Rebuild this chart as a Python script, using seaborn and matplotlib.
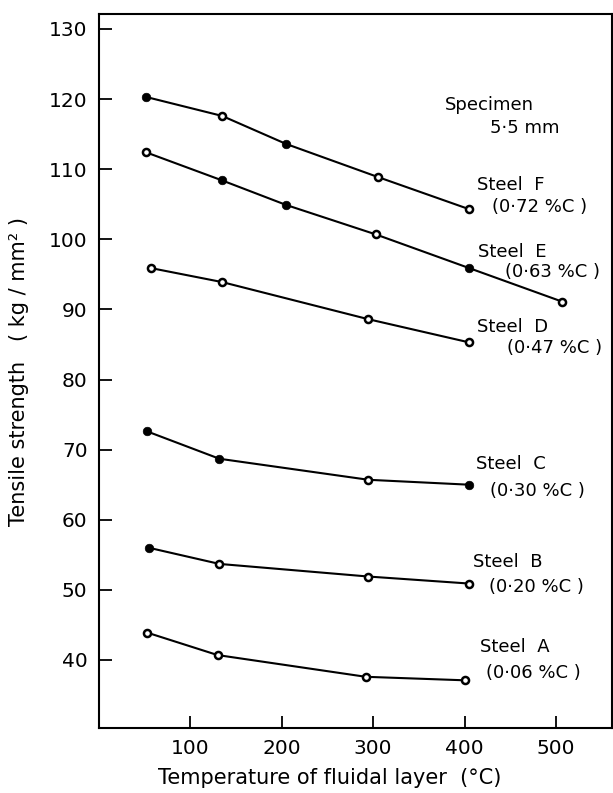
import pandas as pd
import matplotlib.pyplot as plt
import seaborn as sns

# Values
steels = ["A", "B", "C", "D", "E", "F"]
carbon = ["0·06", "0·20", "0·30", "0·47", "0·63", "0·72"]

temp_a = [53, 130, 292, 400]
ts_a = [43.9, 40.7, 37.6, 37.1]
fill_a = [False, False, False, False]

temp_b = [55, 132, 295, 405]
ts_b = [56.0, 53.7, 51.9, 50.9]
fill_b = [True, False, False, False]

temp_c = [53, 132, 295, 405]
ts_c = [72.6, 68.7, 65.7, 65.0]
fill_c = [True, True, False, True]

temp_d = [57, 135, 295, 405]
ts_d = [95.9, 93.9, 88.6, 85.3]
fill_d = [False, False, False, False]

temp_e = [52, 135, 205, 303, 405, 507]
ts_e = [112.4, 108.4, 104.9, 100.7, 95.9, 91.1]
fill_e = [False, True, True, False, True, False]

temp_f = [52, 135, 205, 305, 405]
ts_f = [120.3, 117.6, 113.6, 108.9, 104.3]
fill_f = [True, False, True, False, False]

x_ticks = [100, 200, 300, 400, 500]
y_ticks = [40, 50, 60, 70, 80, 90, 100, 110, 120, 130]

# label anchor positions (data coords)
label_pos = {
    "A": ((417, 41.8), (423, 38.1)),
    "B": ((409, 54.0), (427, 50.4)),
    "C": ((413, 68.0), (428, 64.1)),
    "D": ((414, 87.5), (446, 84.5)),
    "E": ((415, 98.2), (444, 95.3)),
    "F": ((414, 107.7), (430, 104.6)),
}

frames = []
for s, t, v, f in zip(steels,
                      [temp_a, temp_b, temp_c, temp_d, temp_e, temp_f],
                      [ts_a, ts_b, ts_c, ts_d, ts_e, ts_f],
                      [fill_a, fill_b, fill_c, fill_d, fill_e, fill_f]):
    frames.append(pd.DataFrame({"steel": s, "temp": t, "ts": v, "filled": f}))
df = pd.concat(frames, ignore_index=True)

sns.set_style("ticks")
plt.rcParams["font.family"] = ["DejaVu Sans"]
plt.rcParams["text.color"] = "black"
plt.rcParams["axes.labelcolor"] = "black"
plt.rcParams["xtick.color"] = "black"
plt.rcParams["ytick.color"] = "black"
plt.rcParams["axes.edgecolor"] = "black"

fig = plt.figure(figsize=(6.13, 7.93), dpi=100)
ax = fig.add_axes([0.161, 0.082, 0.837, 0.9])

sns.lineplot(data=df, x="temp", y="ts", hue="steel", palette=["black"] * 6,
             legend=False, linewidth=1.5, ax=ax, sort=True)

open_pts = df[~df["filled"]]
full_pts = df[df["filled"]]
sns.scatterplot(data=open_pts, x="temp", y="ts", s=26, facecolor="white",
                edgecolor="black", linewidth=1.8, ax=ax, zorder=3, legend=False)
sns.scatterplot(data=full_pts, x="temp", y="ts", s=38, color="black",
                edgecolor="black", ax=ax, zorder=3, legend=False)

for s, c in zip(steels, carbon):
    (x1, y1), (x2, y2) = label_pos[s]
    ax.text(x1, y1, f"Steel  {s}", fontsize=13, va="center", ha="left")
    ax.text(x2, y2, f"({c} %C )", fontsize=13, va="center", ha="left")

ax.text(379, 119.2, "Specimen", fontsize=13, va="center", ha="left")
ax.text(428, 115.9, "5·5 mm", fontsize=13, va="center", ha="left")

ax.set_xlim(0, 561)
ax.set_ylim(30.3, 132.1)
ax.set_xticks(x_ticks)
ax.set_yticks(y_ticks)
ax.tick_params(direction="in", length=9, width=1.3, labelsize=14.5, pad=8)
for sp in ax.spines.values():
    sp.set_linewidth(1.5)

ax.set_xlabel("Temperature of fluidal layer  (°C)", fontsize=15)
ax.set_ylabel("Tensile strength   ( kg / mm² )", fontsize=15)
ax.xaxis.set_label_coords(0.45, -0.056)
ax.yaxis.set_label_coords(-0.135, 0.5)

fig.savefig("out.png", dpi=100)
